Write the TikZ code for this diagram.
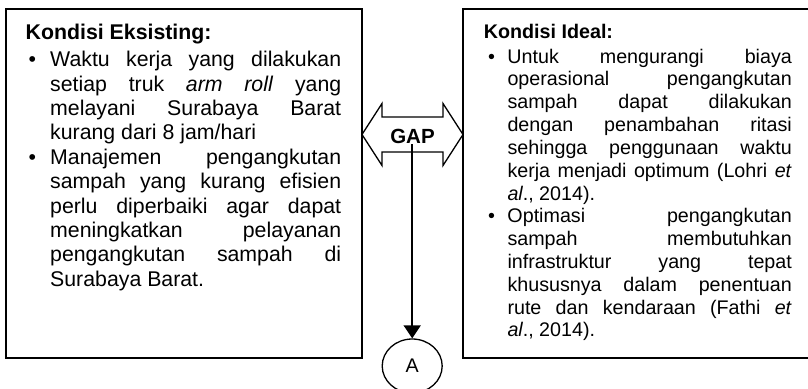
\documentclass[tikz,border=0pt]{standalone}
\usepackage{fontspec}
\setmainfont{Liberation Sans}
\usetikzlibrary{arrows.meta,shapes.geometric}
\newlength\bxoff
\newlength\txoff
\newlength\txw
\newcommand\kline[1]{\noindent\hspace*{\txoff}\makebox[\txw][s]{#1}\par}
\newcommand\kbline[1]{\noindent\rlap{\hspace*{\bxoff}\textbullet}\hspace*{\txoff}\makebox[\txw][s]{#1}\par}
\newcommand\klast[1]{\noindent\hspace*{\txoff}#1\par}
\tikzset{
  panel/.style={draw, line width=2pt, rectangle, inner sep=0pt},
  txt/.style={anchor=base west, inner sep=0pt, align=left},
  gaparrow/.style={draw, line width=1.3pt, fill=white, line join=miter},
  conn/.style={line width=1.8pt, -{Triangle[length=13pt,width=17pt]}},
  circ/.style={draw, ellipse, line width=1.3pt, minimum width=60pt, minimum height=54pt, inner sep=0pt, font=\fontsize{19.7}{22}\selectfont}
}
\begin{document}
\begin{tikzpicture}[x=1pt,y=-1pt]
\useasboundingbox (0,0) rectangle (808,388);
\clip (0,0) rectangle (808,388);
% panels
\node[panel, minimum width=356.5pt, minimum height=348.5pt] (L) at (183.75,183.25) {};
\node[panel, minimum width=350pt, minimum height=348.5pt] (R) at (638,183.25) {};
% left text
\node[txt] (Ltext) at (25.5,39) {\begin{minipage}[t]{330pt}
\fontsize{21.3}{24.4}\selectfont
\setlength\bxoff{3pt}\setlength\txoff{24.5pt}\setlength\txw{291pt}%
\noindent\textbf{Kondisi Eksisting:}\par\vspace{3.3pt}
\kbline{Waktu kerja yang dilakukan}
\kline{setiap truk \textit{arm roll} yang}
\kline{melayani Surabaya Barat}
\klast{kurang dari 8 jam/hari}
\kbline{Manajemen pengangkutan}
\kline{sampah yang kurang efisien}
\kline{perlu diperbaiki agar dapat}
\kline{meningkatkan pelayanan}
\kline{pengangkutan sampah di}
\klast{Surabaya Barat.}
\end{minipage}};
% right text
\node[txt] (Rtext) at (483.7,38) {\begin{minipage}[t]{320pt}
\fontsize{19.7}{22.83}\selectfont
\setlength\bxoff{4.3pt}\setlength\txoff{23.6pt}\setlength\txw{284.4pt}%
\noindent\textbf{Kondisi Ideal:}\par\vspace{2.2pt}
\kbline{Untuk mengurangi biaya}
\kline{operasional pengangkutan}
\kline{sampah dapat dilakukan}
\kline{dengan penambahan ritasi}
\kline{sehingga penggunaan waktu}
\kline{kerja menjadi optimum (Lohri \textit{et}}
\klast{\textit{al}., 2014).}
\kbline{Optimasi pengangkutan}
\kline{sampah membutuhkan}
\kline{infrastruktur yang tepat}
\kline{khususnya dalam penentuan}
\kline{rute dan kendaraan (Fathi \textit{et}}
\klast{\textit{al}., 2014).}
\end{minipage}};
% GAP double arrow
\coordinate (g) at (412.5,134.5);
\draw[gaparrow] ([xshift=-50.5pt]g) -- ++(20,-31) -- ++(0,13.5) -- ++(61,0) -- ++(0,-13.5)
  -- ([xshift=50.5pt]g) -- ++(-20,31) -- ++(0,-13.5) -- ++(-61,0) -- ++(0,13.5) -- cycle;
\node[inner sep=0pt, font=\bfseries\fontsize{20.5}{24}\selectfont] (gap) at (412.5,136.7) {GAP};
% connector to A
\node[circ] (A) at (412.2,366) {A};
\draw[conn] (gap.south -| A.north) -- (A.north);
\end{tikzpicture}
\end{document}
